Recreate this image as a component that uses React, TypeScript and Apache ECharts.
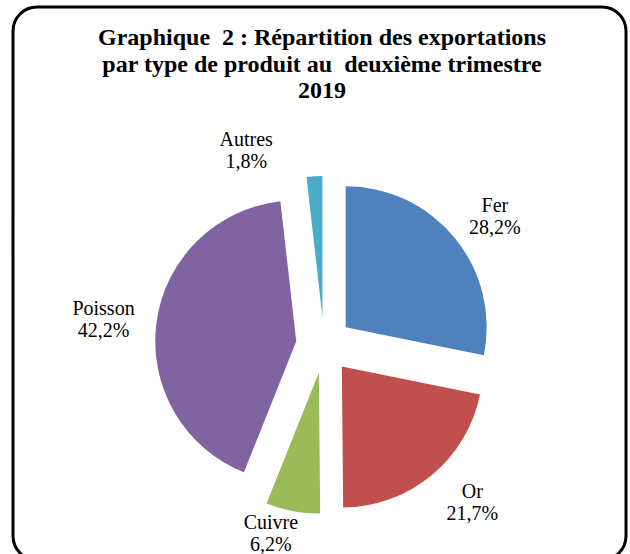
import React, { useEffect, useRef } from "react";
import * as echarts from "echarts";

const categories = ["Fer", "Or", "Cuivre", "Poisson", "Autres"];
const values = [28.2, 21.7, 6.2, 42.2, 1.8];
const labelTexts = ["28,2%", "21,7%", "6,2%", "42,2%", "1,8%"];
const colors = ["#4F81BD", "#C0504D", "#9BBB59", "#8064A2", "#4BACC6"];
const titleLines = [
  "Graphique  2 : Répartition des exportations",
  "par type de produit au  deuxième trimestre",
  "2019",
];
// label placement tweaks: [angle shift from slice bisector (deg), distance from pie centre]
const labelTweaks: [number, number][] = [
  [2.3, 214],
  [-3.8, 216],
  [5.2, 195],
  [-0.9, 222],
  [-18.5, 210],
];

const CX = 324;
const CY = 345;
const R = 141;
const LABEL_FONT = "20px Liberation Serif";

export default function App() {
  const ref = useRef<HTMLDivElement>(null);
  useEffect(() => {
    document.body.style.margin = "0";
    if (!ref.current) return;
    const chart = echarts.init(ref.current, null, { renderer: "svg" });
    const total = values.reduce((a, b) => a + b, 0);
    const bisectors: number[] = [];
    let acc = 0;
    values.forEach((v) => {
      const a = (v / total) * 360;
      bisectors.push(acc + a / 2);
      acc += a;
    });
    const labelGraphics: any[] = [];
    categories.forEach((name, i) => {
      const [da, d] = labelTweaks[i];
      const ang = ((bisectors[i] + da) * Math.PI) / 180;
      const x = CX + d * Math.sin(ang);
      const y = CY - d * Math.cos(ang);
      [name, labelTexts[i]].forEach((t, k) => {
        labelGraphics.push({
          type: "text",
          x,
          y: y + (k === 0 ? -11 : 11),
          silent: true,
          style: {
            text: t,
            font: LABEL_FONT,
            fill: "#000000",
            textAlign: "center",
            textVerticalAlign: "middle",
          },
        });
      });
    });
    chart.setOption({
      animation: false,
      backgroundColor: "#ffffff",
      graphic: [
        {
          type: "rect",
          shape: { x: 13, y: 7, width: 613, height: 553, r: 24 },
          style: { fill: "none", stroke: "#000000", lineWidth: 3 },
          silent: true,
        },
        ...titleLines.map((t, i) => ({
          type: "text",
          x: 322,
          y: 37 + i * 26.5,
          silent: true,
          style: {
            text: t,
            font: "bold 24px Liberation Serif",
            fill: "#000000",
            textAlign: "center",
            textVerticalAlign: "middle",
          },
        })),
        ...labelGraphics,
      ],
      series: [
        {
          type: "pie",
          center: [CX, CY],
          radius: R,
          startAngle: 90,
          clockwise: true,
          selectedMode: "multiple",
          selectedOffset: 28,
          select: { itemStyle: { borderWidth: 0 } },
          emphasis: { disabled: true },
          label: { show: false },
          labelLine: { show: false },
          data: categories.map((name, i) => ({
            name,
            value: values[i],
            selected: true,
            itemStyle: { color: colors[i] },
          })),
        },
      ],
    });
    return () => chart.dispose();
  }, []);
  return (
    <div
      ref={ref}
      style={{ position: "absolute", left: 0, top: 0, width: 630, height: 554 }}
    />
  );
}
